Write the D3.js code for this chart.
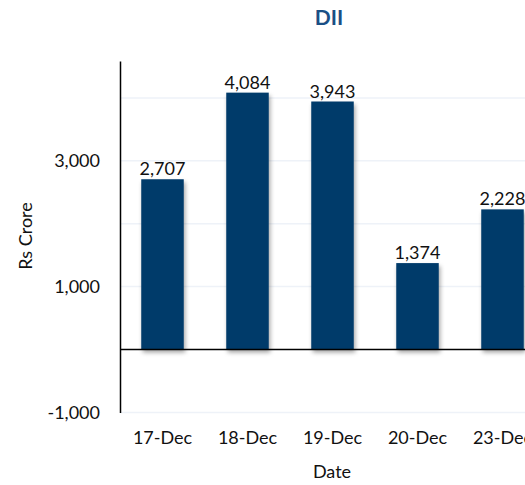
<!DOCTYPE html>
<html><head><meta charset="utf-8">
<script src="https://cdn.jsdelivr.net/npm/d3@7"></script>
<style>
html,body{margin:0;padding:0;background:#fff;overflow:hidden;}
text{font-family:Lato,"Open Sans",sans-serif;}
</style></head>
<body><svg id="c" width="525" height="485"></svg>
<script>
const categories = ["17-Dec","18-Dec","19-Dec","20-Dec","23-Dec"];
const values = [2707, 4084, 3943, 1374, 2228];
const tickValues = [-1000, 1000, 3000];
const gridValues = [-1000, 1000, 2000, 3000, 4000];
const title = "DII";
const yTitle = "Rs Crore";
const xTitle = "Date";

const fmt = d => d3.format(",")(d).replace("\u2212","-");

const svg = d3.select("#c");
const defs = svg.append("defs");
const f = defs.append("filter").attr("id","sh").attr("x","-20%").attr("y","-20%").attr("width","150%").attr("height","150%");
f.append("feDropShadow").attr("dx",1.5).attr("dy",3).attr("stdDeviation",2).attr("flood-color","#000").attr("flood-opacity",0.35);

const y = d3.scaleLinear().domain([-1000, 4587]).range([412.4, 61]);
const x = d3.scaleBand().domain(categories).range([120, 545]).paddingInner(0.5).paddingOuter(0.25);

// gridlines
svg.append("g").selectAll("line").data(gridValues).join("line")
  .attr("x1",120).attr("x2",525).attr("y1",d=>y(d)).attr("y2",d=>y(d))
  .attr("stroke","#eef2f8").attr("stroke-width",1.5);

// bars
svg.append("g").selectAll("rect").data(values).join("rect")
  .attr("x",(d,i)=>x(categories[i])).attr("width",x.bandwidth())
  .attr("y",d=>y(Math.max(0,d))).attr("height",d=>Math.abs(y(d)-y(0)))
  .attr("fill","#023a6a").attr("filter","url(#sh)");

// zero line
svg.append("line").attr("x1",120).attr("x2",525).attr("y1",y(0)).attr("y2",y(0))
  .attr("stroke","#000").attr("stroke-width",1.5);

// y axis
const yAxis = d3.axisLeft(y).tickValues(tickValues).tickSize(0).tickPadding(20).tickFormat(fmt);
const ya = svg.append("g").attr("transform","translate(120,0)").call(yAxis);
ya.select(".domain").attr("stroke","#000").attr("stroke-width",1.5);
ya.selectAll("text").attr("font-size",18).attr("fill","#111").attr("font-family","Lato,sans-serif");

// x axis labels
const xAxis = d3.axisBottom(x).tickSize(0).tickPadding(0);
const xa = svg.append("g").attr("transform","translate(0,431)").call(xAxis);
xa.select(".domain").remove();
xa.selectAll("text").attr("font-size",18).attr("fill","#111").attr("font-family","Lato,sans-serif").attr("dy","0.71em");

// data labels
svg.append("g").selectAll("text").data(values).join("text")
  .attr("x",(d,i)=>x(categories[i])+x.bandwidth()/2).attr("y",d=>y(d)-4)
  .attr("text-anchor","middle").attr("font-size",18).attr("fill","#111")
  .text(fmt);

// titles
svg.append("text").attr("x",329).attr("y",25).attr("text-anchor","middle")
  .attr("font-size",21).attr("font-weight","bold").attr("fill","#1a4f85").text(title);
svg.append("text").attr("transform","translate(32,236) rotate(-90)").attr("text-anchor","middle")
  .attr("font-size",18).attr("fill","#111").text(yTitle);
svg.append("text").attr("x",332).attr("y",478).attr("text-anchor","middle")
  .attr("font-size",18).attr("fill","#111").text(xTitle);
</script></body></html>
